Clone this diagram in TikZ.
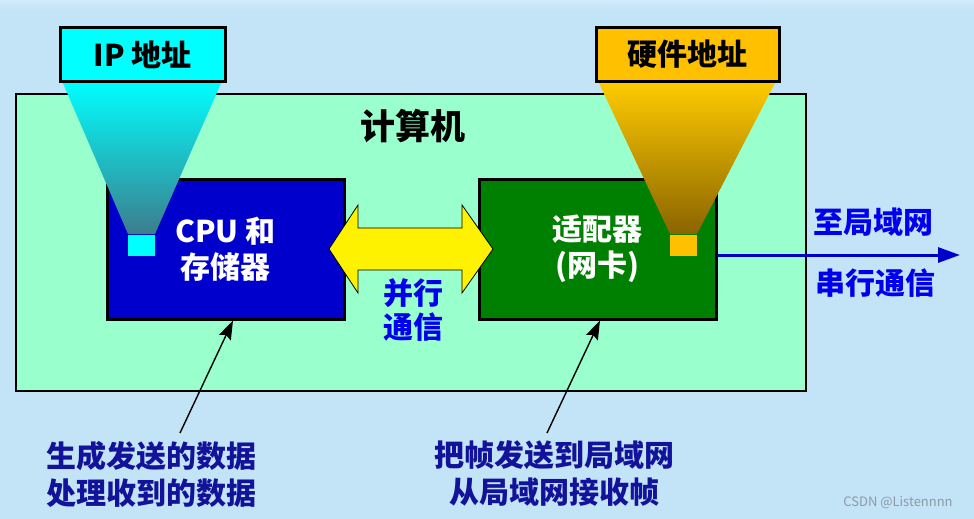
\documentclass[tikz,border=0pt]{standalone}
\usepackage{fontspec}
\setmainfont{Noto Sans CJK SC}
\usetikzlibrary{arrows.meta}
\definecolor{bg}{HTML}{C3E3F7}
\definecolor{bgtop}{HTML}{D2ECFC}
\definecolor{mint}{HTML}{99FFCC}
\definecolor{cpublue}{HTML}{0000CC}
\definecolor{adgreen}{HTML}{008000}
\definecolor{gold}{HTML}{FFC000}
\definecolor{aqua}{HTML}{00FFFF}
\definecolor{txtblue}{HTML}{0000EE}
\definecolor{navy}{HTML}{12129A}
\definecolor{tealdark}{HTML}{3C7D8C}
\definecolor{tealmid}{HTML}{1ED8E2}
\definecolor{goldtop}{HTML}{FFCC00}
\definecolor{goldmid}{HTML}{E2A800}
\definecolor{golddark}{HTML}{8A6400}
\definecolor{wmgray}{HTML}{8C9AA6}
\tikzset{
  frame/.style={draw=black, line width=2pt, inner sep=0pt},
  unitbox/.style={draw=black, line width=3pt, inner sep=0pt, minimum width=237pt, minimum height=140pt,
    text=white, font=\bfseries\fontsize{30}{36}\selectfont, align=center},
  labelbox/.style={draw=black, line width=3pt, inner sep=0pt, minimum height=53pt,
    font=\bfseries\fontsize{30}{34}\selectfont},
  port/.style={inner sep=0pt, minimum width=27pt, minimum height=21pt},
  bluetxt/.style={text=txtblue, font=\bfseries\fontsize{30}{34}\selectfont, align=center},
  notetxt/.style={text=navy, font=\bfseries\fontsize{30}{37}\selectfont, align=center},
  annot/.style={draw=black, line width=1.4pt, -{Stealth[length=19pt,width=13pt,inset=3pt]}},
  serial/.style={draw=cpublue, line width=3pt, -{Triangle[length=22pt,width=15pt]}}
}
\begin{document}
\begin{tikzpicture}[x=1pt,y=-1pt]
\useasboundingbox (0,0) rectangle (974,519);
\fill[bg] (0,0) rectangle (974,519);
\shade[top color=bgtop, bottom color=bg] (0,0) rectangle (974,10);

% computer frame
\node[frame, fill=mint, minimum width=790pt, minimum height=297pt] (pc) at (411,242.5) {};
\node[font=\bfseries\fontsize{35}{40}\selectfont] (pctitle) at (413,126) {计算机};

% units
\node[unitbox, fill=cpublue] (cpu) at (225.5,249) {CPU 和\\存储器};
\node[unitbox, fill=adgreen] (ad) at (597.5,249) {适配器\\(网卡)};

% address cones
\shade[top color=aqua, middle color=tealmid, bottom color=tealdark]
  (62,81) -- (222,81) -- (155,234) -- (128,234) -- cycle;
\shade[top color=goldtop, middle color=goldmid, bottom color=golddark]
  (598,81) -- (776,81) -- (697,234) -- (670,234) -- cycle;
\node[port, fill=aqua] (ipport) at (141.5,245.5) {};
\node[port, fill=gold] (hwport) at (683.5,245.5) {};

\node[labelbox, fill=aqua, minimum width=165pt] (ip) at (142.5,54.5) {IP 地址};
\node[labelbox, fill=gold, minimum width=183pt] (hw) at (687.5,54.5) {硬件地址};

% parallel double arrow
\filldraw[fill=yellow, draw=black, line width=0.8pt]
  (329,249) -- (358,205) -- (358,228) -- (462,228) -- (462,205) -- (493,249)
  -- (462,293) -- (462,270) -- (358,270) -- (358,293) -- cycle;
\node[bluetxt] (par) at (413,310) {并行\\通信};

% serial link
\coordinate (adout) at (717,255);
\coordinate (lan) at (960,255);
\draw[serial] (adout) -- (lan);
\node[bluetxt] (tolan) at (873,222) {至局域网};
\node[bluetxt] (ser) at (875,283) {串行通信};

% notes
\node[notetxt] (note1) at (151,474) {生成发送的数据\\处理收到的数据};
\node[notetxt] (note2) at (554,474) {把帧发送到局域网\\从局域网接收帧};
\coordinate (n1) at (180,433);
\coordinate (n2) at (547,433);
\draw[annot] (n1) -- ([xshift=7.5pt]cpu.south);
\draw[annot] (n2) -- ([xshift=2.5pt]ad.south);

\node[text=wmgray, font=\fontsize{13}{15}\selectfont] (wm) at (898,503) {CSDN @Listennnn};
\end{tikzpicture}
\end{document}
